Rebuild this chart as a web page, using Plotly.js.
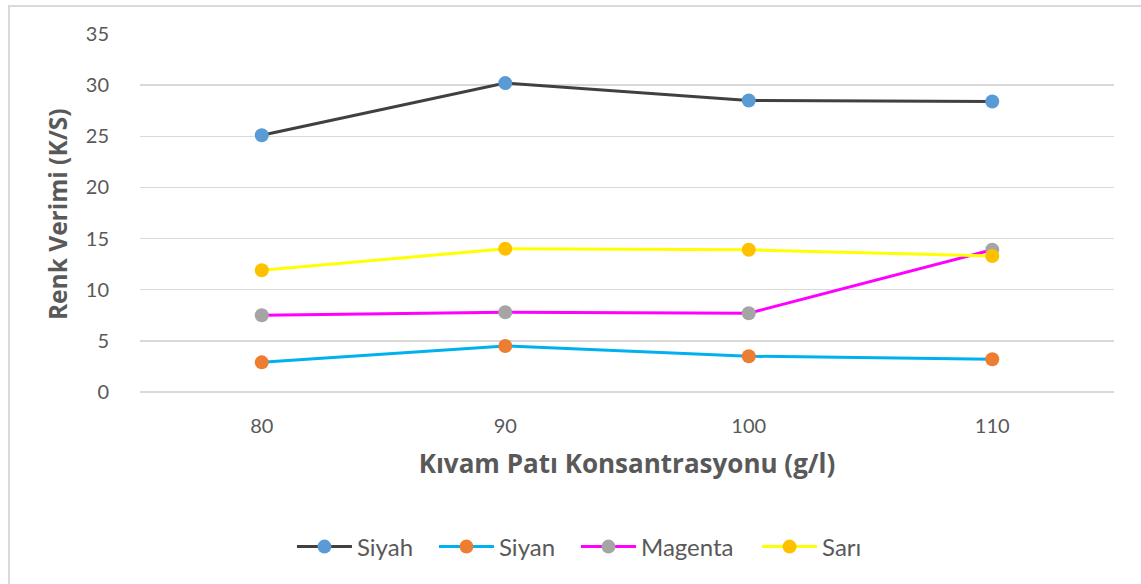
<!DOCTYPE html>
<html>
<head>
<meta charset="utf-8">
<script src="https://cdn.plot.ly/plotly-3.0.1.min.js"></script>
<style>
html,body{margin:0;padding:0;background:#fff;}
#wrap{position:relative;width:1141px;height:584px;overflow:hidden;}
#frame{position:absolute;left:8px;top:5px;width:1200px;height:700px;border-left:2px solid #d9d9d9;border-top:2px solid #d9d9d9;pointer-events:none;}
#chart{position:absolute;left:0;top:0;width:1141px;height:584px;}
</style>
</head>
<body>
<div id="wrap">
<div id="chart"></div>
<div id="frame"></div>
</div>
<script>
const categories = ["80", "90", "100", "110"];
const siyah   = [25.1, 30.2, 28.5, 28.4];
const siyan   = [2.9, 4.5, 3.5, 3.2];
const magenta = [7.5, 7.8, 7.7, 13.9];
const sari    = [11.9, 14.0, 13.9, 13.3];
const seriesNames = ["Siyah", "Siyan", "Magenta", "Sarı"];
const tickVals = [0, 5, 10, 15, 20, 25, 30, 35];
const xTitle = "Kıvam Patı Konsantrasyonu (g/l)";
const yTitle = "Renk Verimi (K/S)";

const lineColors = ["#404040", "#00b0f0", "#ff00ff", "#ffff00"];
const markerColors = ["#5b9bd5", "#ed7d31", "#a5a5a5", "#ffc000"];
const allSeries = [siyah, siyan, magenta, sari];
const legendIds = ["legend", "legend2", "legend3", "legend4"];
const legendX = [0.156, 0.3018, 0.4476, 0.6335];

const traces = allSeries.map((vals, i) => ({
  type: "scatter",
  mode: "lines+markers",
  name: seriesNames[i],
  x: categories,
  y: vals,
  line: {color: lineColors[i], width: 3},
  marker: {color: markerColors[i], size: 14},
  cliponaxis: false,
  legend: legendIds[i]
}));

const font = "Lato, 'Open Sans', 'Liberation Sans', sans-serif";
const titleFont = "'Open Sans', Lato, sans-serif";
const layout = {
  width: 1141, height: 584,
  margin: {l: 140, r: 27, t: 34, b: 192},
  paper_bgcolor: "#ffffff",
  plot_bgcolor: "#ffffff",
  font: {family: font, color: "#595959", size: 20},
  showlegend: true,
  xaxis: {
    type: "category",
    range: [-0.5, 3.5],
    showgrid: false,
    zeroline: false,
    showline: false,
    ticks: "",
    ticklabelstandoff: 20,
    tickfont: {family: font, size: 20, color: "#595959"},
    title: {text: xTitle, font: {family: titleFont, size: 26, color: "#595959", weight: "bold"}, standoff: 18}
  },
  yaxis: {
    range: [0, 35],
    tickvals: tickVals,
    showgrid: true,
    gridcolor: "#d9d9d9",
    gridwidth: 1.5,
    zeroline: true,
    zerolinecolor: "#d9d9d9",
    zerolinewidth: 1.5,
    showline: false,
    ticks: "",
    ticklabelstandoff: 30,
    tickfont: {family: font, size: 20, color: "#595959"},
    title: {text: ""}
  },
  annotations: [{
    text: yTitle,
    xref: "paper", yref: "paper",
    x: -0.0852, y: 0.497,
    xanchor: "center", yanchor: "middle",
    textangle: -90,
    showarrow: false,
    font: {family: titleFont, size: 24.5, color: "#595959", weight: "bold"}
  }]
};

legendIds.forEach((id, i) => {
  layout[id] = {
    orientation: "h",
    x: legendX[i], xanchor: "left",
    y: -0.433, yanchor: "middle",
    font: {family: font, size: 24, color: "#595959"},
    itemwidth: 55,
    bgcolor: "rgba(0,0,0,0)"
  };
});

Plotly.newPlot("chart", traces, layout, {displayModeBar: false, staticPlot: true});
</script>
</body>
</html>
